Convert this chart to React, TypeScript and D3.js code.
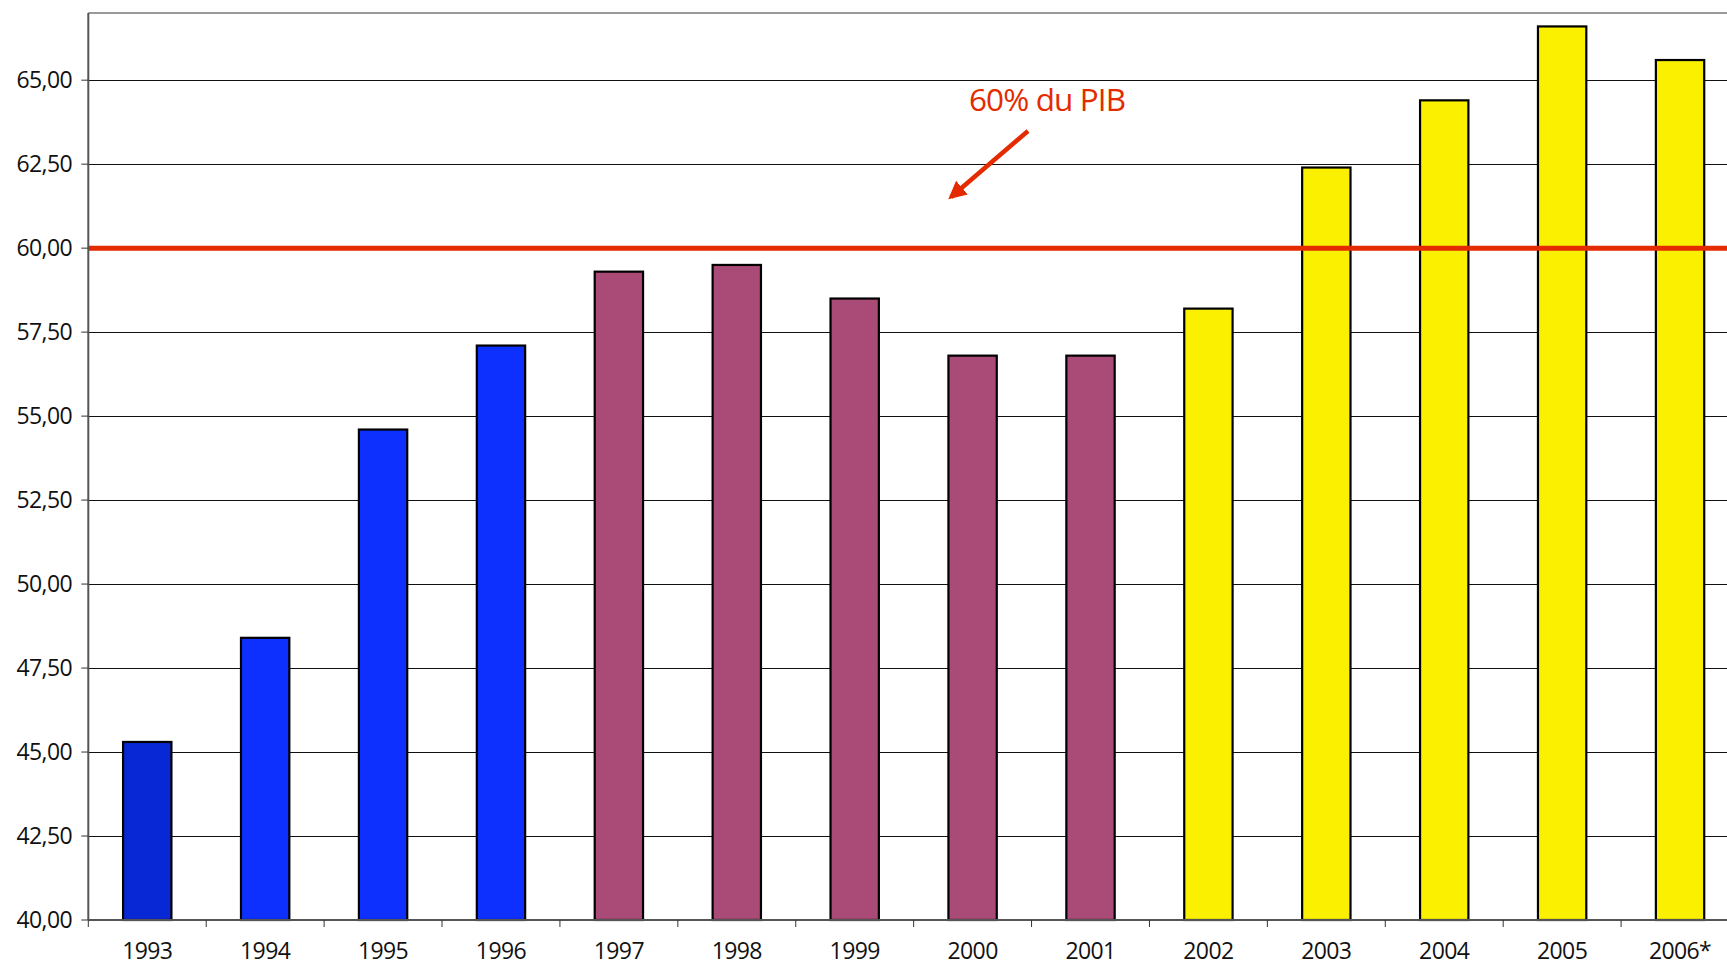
import React from "react";
import * as d3 from "d3";

const years = ["1993", "1994", "1995", "1996", "1997", "1998", "1999", "2000", "2001", "2002", "2003", "2004", "2005", "2006*"];
const values = [45.3, 48.4, 54.6, 57.1, 59.3, 59.5, 58.5, 56.8, 56.8, 58.2, 62.4, 64.4, 66.6, 65.6];
const periods = ["p1993", "p1993_97", "p1993_97", "p1993_97", "p1997_02", "p1997_02", "p1997_02", "p1997_02", "p1997_02", "p2002_07", "p2002_07", "p2002_07", "p2002_07", "p2002_07"];
const yTicks = [40, 42.5, 45, 47.5, 50, 52.5, 55, 57.5, 60, 62.5, 65];
const thresholdValue = 60;
const annotationLabel = "60% du PIB";

const periodColors: Record<string, string> = {
  p1993: "#0828d6",
  p1993_97: "#0e30ff",
  p1997_02: "#a94a77",
  p2002_07: "#fbf000",
};

const W = 1727;
const H = 966;
const left = 88.3;
const right = 1739;
const top = 13;
const bottom = 920;

export default function App() {
  const x = d3.scaleBand<string>().domain(years).range([left, right]).paddingInner(0.59).paddingOuter(0.295);
  const y = d3.scaleLinear().domain([40, 67]).range([bottom, top]);
  const step = x.step();
  const fmt = (v: number) => d3.format(".2f")(v).replace(".", ",");
  const font = "'Open Sans', 'DejaVu Sans', sans-serif";
  const y60 = y(thresholdValue);

  return (
    <svg width={W} height={H} style={{ position: "absolute", left: 0, top: 0, background: "#fff" }}>
      <rect x={0} y={0} width={W} height={H} fill="#fff" />
      {/* top border */}
      <line x1={left} x2={W} y1={top} y2={top} stroke="#999" strokeWidth={2} />
      {/* gridlines */}
      {yTicks.filter((t) => t > 40).map((t) => (
        <line key={t} x1={left} x2={W} y1={Math.round(y(t)) + 0.5} y2={Math.round(y(t)) + 0.5} stroke="#111" strokeWidth={1} />
      ))}
      {/* bars */}
      {years.map((yr, i) => (
        <rect
          key={yr}
          x={x(yr)!}
          y={y(values[i])}
          width={x.bandwidth()}
          height={bottom - y(values[i])}
          fill={periodColors[periods[i]]}
          stroke="#000"
          strokeWidth={2.2}
        />
      ))}
      {/* threshold line */}
      <line x1={left} x2={W} y1={y60} y2={y60} stroke="#e42b00" strokeWidth={5} />
      {/* axes */}
      <line x1={left} x2={left} y1={top} y2={bottom} stroke="#555" strokeWidth={2} />
      <line x1={left} x2={W} y1={bottom} y2={bottom} stroke="#555" strokeWidth={2} />
      {yTicks.map((t) => (
        <g key={"yt" + t}>
          <line x1={left - 7} x2={left} y1={y(t)} y2={y(t)} stroke="#333" strokeWidth={1} />
          <text x={72} y={y(t)} dy="0.36em" textAnchor="end" fontFamily={font} fontSize={23} fill="#111" letterSpacing={-0.6}>
            {fmt(t)}
          </text>
        </g>
      ))}
      {d3.range(years.length + 1).map((k) => (
        <line key={"xt" + k} x1={left + k * step} x2={left + k * step} y1={bottom} y2={bottom + 7} stroke="#333" strokeWidth={1} />
      ))}
      {years.map((yr) => (
        <text key={"xl" + yr} x={x(yr)! + x.bandwidth() / 2} y={951} dy="0.36em" textAnchor="middle" fontFamily={font} fontSize={23} fill="#111" letterSpacing={-0.6}>
          {yr}
        </text>
      ))}
      {/* annotation */}
      <text x={969} y={100} dy="0.36em" fontFamily={font} fontSize={31.5} fontWeight={500} fill="#e42b00" letterSpacing={-0.9}>
        {annotationLabel}
      </text>
      <defs>
        <marker id="arrowhead" viewBox="0 0 10 10" refX={8} refY={5} markerWidth={4} markerHeight={4} orient="auto">
          <path d="M0,0 L10,5 L0,10 z" fill="#e42b00" />
        </marker>
      </defs>
      <line x1={1028} y1={131} x2={951} y2={197} stroke="#e42b00" strokeWidth={4.5} markerEnd="url(#arrowhead)" />
    </svg>
  );
}
